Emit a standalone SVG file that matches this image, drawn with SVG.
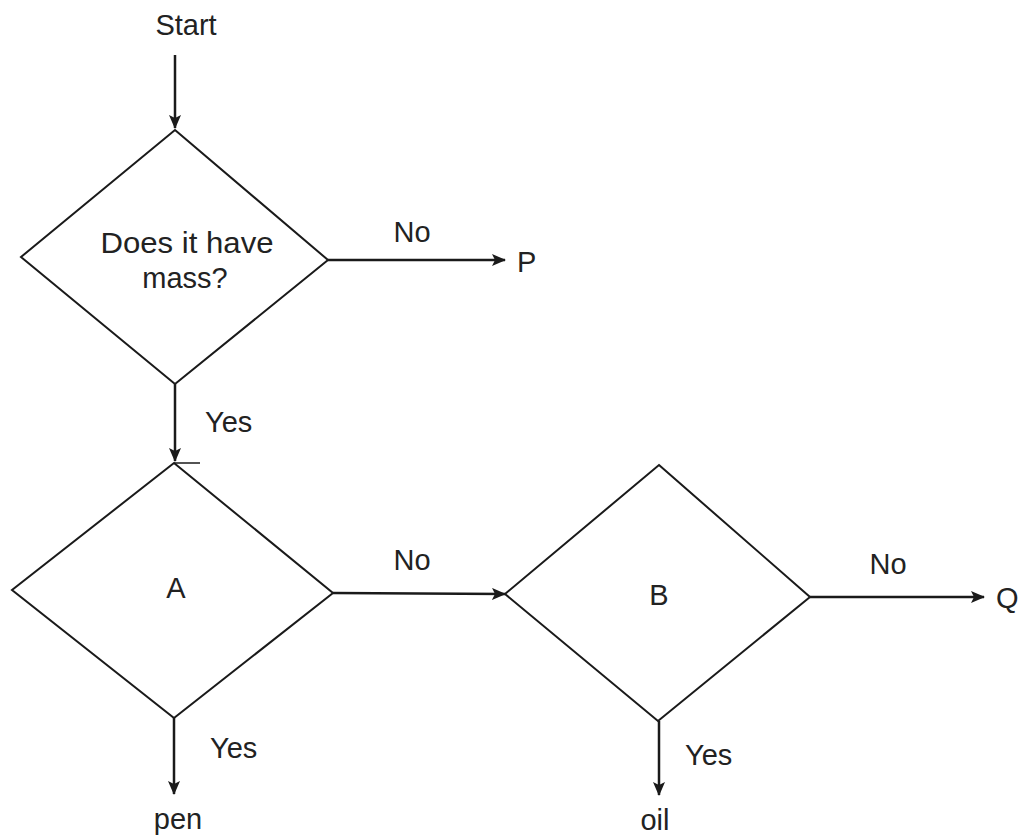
<svg xmlns="http://www.w3.org/2000/svg" width="1027" height="836" viewBox="0 0 1027 836">
<defs>
<marker id="ah" markerWidth="14" markerHeight="12" refX="13" refY="6" orient="auto" markerUnits="userSpaceOnUse">
<path d="M0,0 L14,6 L0,12 L3,6 Z" fill="#1a1a1a"/>
</marker>
<style>
.d{fill:#fff;stroke:#1a1a1a;stroke-width:2}
.c{fill:none;stroke:#1a1a1a;stroke-width:2.5;marker-end:url(#ah)}
text{font-family:"Liberation Sans",Arial,sans-serif;font-size:29px;fill:#222}
.m{text-anchor:middle}
</style>
</defs>
<rect width="1027" height="836" fill="#fff"/>
<g id="start"><text class="m" x="186" y="35">Start</text></g>
<g id="q1">
<polygon class="d" points="175,130 328,260 175,384 21,257"/>
<text class="m" x="187" y="253" textLength="173" lengthAdjust="spacingAndGlyphs">Does it have</text>
<text class="m" x="185" y="288">mass?</text>
</g>
<g id="P"><text x="517" y="272">P</text></g>
<g id="qA">
<polygon class="d" points="174,463 333,593 174,718 12,590"/>
<line x1="174" y1="463" x2="200" y2="463" stroke="#1a1a1a" stroke-width="1.5"/>
<text class="m" x="176" y="598">A</text>
</g>
<g id="qB">
<polygon class="d" points="659,465 810,597 658,721 505,594"/>
<text class="m" x="659" y="605">B</text>
</g>
<g id="Q"><text x="996" y="608">Q</text></g>
<g id="pen"><text class="m" x="178" y="829">pen</text></g>
<g id="oil"><text class="m" x="655" y="830">oil</text></g>
<g id="connectors">
<line class="c" x1="175" y1="55" x2="175" y2="128"/>
<line class="c" x1="328" y1="260" x2="505" y2="260"/>
<line class="c" x1="175" y1="384" x2="175" y2="461"/>
<line class="c" x1="333" y1="593" x2="505" y2="594"/>
<line class="c" x1="810" y1="597" x2="984" y2="597"/>
<line class="c" x1="174" y1="718" x2="174" y2="794"/>
<line class="c" x1="659" y1="721" x2="659" y2="795"/>
<text class="m" x="412" y="242">No</text>
<text x="205" y="432">Yes</text>
<text class="m" x="412" y="570">No</text>
<text class="m" x="888" y="574">No</text>
<text x="210" y="758">Yes</text>
<text x="685" y="765">Yes</text>
</g>
</svg>
